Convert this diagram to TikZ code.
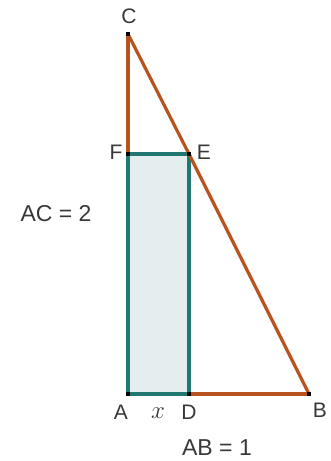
\documentclass[tikz,border=0pt]{standalone}
\usepackage{fontspec}
\setmainfont{Liberation Sans}
\usetikzlibrary{positioning}

\definecolor{sidebrown}{RGB}{184,82,30}
\definecolor{rectteal}{RGB}{32,120,112}
\definecolor{rectfill}{RGB}{228,238,239}

\begin{document}
\begin{tikzpicture}[
    x=1pt, y=-1pt,
    point/.style={
            rectangle,
            fill=black,
            inner sep=0pt,
            minimum size=4pt
        },
    vertex_label/.style={
            font=\fontsize{21}{21}\selectfont,
            text=black!78,
            inner sep=1pt
        },
    eq_label/.style={
            vertex_label,
            font=\fontsize{23}{23}\selectfont
        },
    side/.style={draw=sidebrown, line width=3.2pt},
    rect_side/.style={draw=rectteal, line width=3.2pt, fill=rectfill},
    ]

    \useasboundingbox (0,0) rectangle (331,461);

    % --- Coordinates ---
    \coordinate (c) at (128,34);
    \coordinate (f) at (128,154);
    \coordinate (e) at (189,154);
    \coordinate (a) at (128,394);
    \coordinate (d) at (189,394);
    \coordinate (b) at (309,394);

    % --- Rectangle ---
    \draw[rect_side] (a) -- (d) -- (e) -- (f) -- cycle;

    % --- Triangle sides ---
    \draw[side] (c) -- (f);
    \draw[side] (c) -- (e) -- (b);
    \draw[side] (d) -- (b);

    % --- Points ---
    \foreach \p in {c, f, e, a, d, b}
        \node (pt_\p) [point] at (\p) {};

    % --- Labels ---
    \node (lbl_c) [vertex_label] at (129,16) {C};
    \node (lbl_f) [vertex_label] at (116,152) {F};
    \node (lbl_e) [vertex_label] at (204,152) {E};
    \node (lbl_a) [vertex_label] at (121,412) {A};
    \node (lbl_x) [eq_label] at (158,413) {$x$};
    \node (lbl_d) [vertex_label] at (189,412) {D};
    \node (lbl_b) [vertex_label] at (320,410) {B};
    \node (lbl_ac) [eq_label] at (56,214) {AC = 2};
    \node (lbl_ab) [eq_label] at (217,448) {AB = 1};

\end{tikzpicture}
\end{document}
